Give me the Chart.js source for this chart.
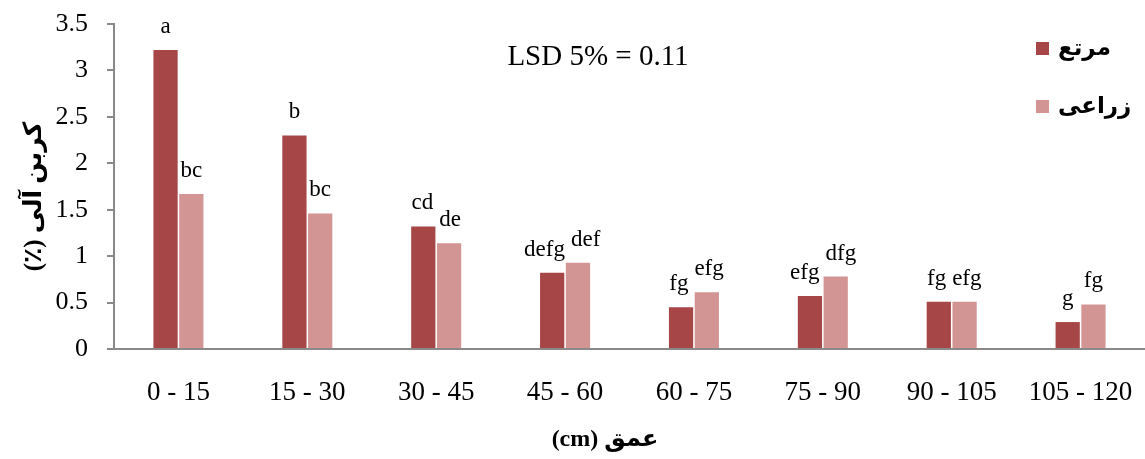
<!DOCTYPE html>
<html>
<head>
<meta charset="utf-8">
<script src="https://cdn.jsdelivr.net/npm/chart.js@4.4.1/dist/chart.umd.min.js"></script>
<style>
  html, body { margin: 0; padding: 0; background: #ffffff; }
  #wrap { width: 1145px; height: 459px; position: relative; }
</style>
</head>
<body>
<div id="wrap"><canvas id="c" width="1145" height="459"></canvas></div>
<script>
// ---- data ----
const categories = ['0 - 15', '15 - 30', '30 - 45', '45 - 60', '60 - 75', '75 - 90', '90 - 105', '105 - 120'];
const seriesNames = ['مرتع', 'زراعی'];
const rangeland = [3.22, 2.30, 1.32, 0.82, 0.45, 0.57, 0.51, 0.29];
const farmland  = [1.67, 1.46, 1.14, 0.93, 0.61, 0.78, 0.51, 0.48];
const rangelandLetters = ['a', 'b', 'cd', 'defg', 'fg', 'efg', 'fg', 'g'];
const farmlandLetters  = ['bc', 'bc', 'de', 'def', 'efg', 'dfg', 'efg', 'fg'];
const yTicks = [0, 0.5, 1, 1.5, 2, 2.5, 3, 3.5];
const lsdText = 'LSD 5% = 0.11';
const xTitle = 'عمق (cm)';
const yTitle = 'کربن آلی (٪)';

const colors = ['#A64646', '#D39494'];
const serif = '"Liberation Serif", "Times New Roman", "DejaVu Serif", serif';
const arab = '"Liberation Serif", "DejaVu Sans", serif';

const letterSets = [rangelandLetters, farmlandLetters];

const annotations = {
  id: 'annotations',
  afterDatasetsDraw(chart) {
    const ctx = chart.ctx;
    const area = chart.chartArea;
    ctx.save();
    // significance letters
    ctx.font = '23px ' + serif;
    ctx.fillStyle = '#000';
    ctx.textAlign = 'center';
    ctx.textBaseline = 'alphabetic';
    const m0 = chart.getDatasetMeta(0).data;
    const m1 = chart.getDatasetMeta(1).data;
    for (let j = 0; j < categories.length; j++) {
      const items = [m0[j], m1[j]].map((el, i) => {
        const txt = letterSets[i][j];
        const w = ctx.measureText(txt).width;
        const base = el.y - 17;
        return { txt, cx: el.x, base, w, t: base - 17, b: base + 5 };
      });
      const a = items[0], b = items[1];
      const margin = 6;
      const ar = a.cx + a.w / 2, bl = b.cx - b.w / 2;
      if (bl < ar + margin && a.t < b.b && a.b > b.t) {
        const shift = (ar + margin - bl) / 2;
        a.cx -= shift; b.cx += shift;
      }
      items.forEach(it => ctx.fillText(it.txt, it.cx, it.base));
    }
    // LSD text
    ctx.font = '29px ' + serif;
    ctx.textAlign = 'center';
    ctx.textBaseline = 'middle';
    ctx.fillText(lsdText, 598, 57);
    // legend
    const legY = [49, 107];
    seriesNames.forEach((name, i) => {
      ctx.fillStyle = colors[i];
      ctx.fillRect(1036, legY[i] - 7, 13, 13);
      ctx.fillStyle = '#000';
      ctx.font = 'bold 23px ' + arab;
      ctx.textAlign = 'right';
      ctx.textBaseline = 'middle';
      ctx.direction = 'rtl';
      const w = ctx.measureText(name).width;
      ctx.fillText(name, 1058 + w, legY[i]);
      ctx.direction = 'ltr';
    });
    // x title
    ctx.font = 'bold 24px ' + arab;
    ctx.textAlign = 'center';
    ctx.textBaseline = 'middle';
    ctx.direction = 'rtl';
    ctx.fillText(xTitle, 605, 440);
    // y title
    ctx.font = 'bold 25px ' + arab;
    ctx.translate(35, (area.top + area.bottom) / 2 + 10);
    ctx.rotate(-Math.PI / 2);
    ctx.fillText(yTitle, 0, 0);
    ctx.restore();
  }
};

new Chart(document.getElementById('c'), {
  type: 'bar',
  data: {
    labels: categories,
    datasets: [
      { label: seriesNames[0], data: rangeland, backgroundColor: colors[0], categoryPercentage: 0.4, barPercentage: 0.94 },
      { label: seriesNames[1], data: farmland, backgroundColor: colors[1], categoryPercentage: 0.4, barPercentage: 0.94 }
    ]
  },
  options: {
    responsive: false,
    animation: false,
    devicePixelRatio: 1,
    layout: { padding: { top: 24, right: 0, bottom: 0, left: 0 } },
    plugins: { legend: { display: false }, tooltip: { enabled: false } },
    scales: {
      x: {
        grid: { display: false, drawTicks: true, tickLength: 28 },
        border: { display: true, color: '#898989', width: 2 },
        ticks: { color: '#000', font: { family: serif, size: 27 }, padding: 0, maxRotation: 0, autoSkip: false },
        afterFit(s) { s.height = 110; s.paddingLeft = 0; s.paddingRight = 0; }
      },
      y: {
        min: 0, max: 3.5,
        afterBuildTicks(s) { s.ticks = yTicks.map(v => ({ value: v })); },
        grid: { drawOnChartArea: false, drawTicks: true, tickLength: 7, color: '#898989', lineWidth: 2 },
        border: { display: true, color: '#898989', width: 2 },
        ticks: { color: '#000', font: { family: serif, size: 26 }, padding: 19, callback: v => String(v) },
        afterFit(s) { s.width = 114; s.paddingTop = 0; s.paddingBottom = 0; }
      }
    }
  },
  plugins: [annotations]
});
</script>
</body>
</html>
